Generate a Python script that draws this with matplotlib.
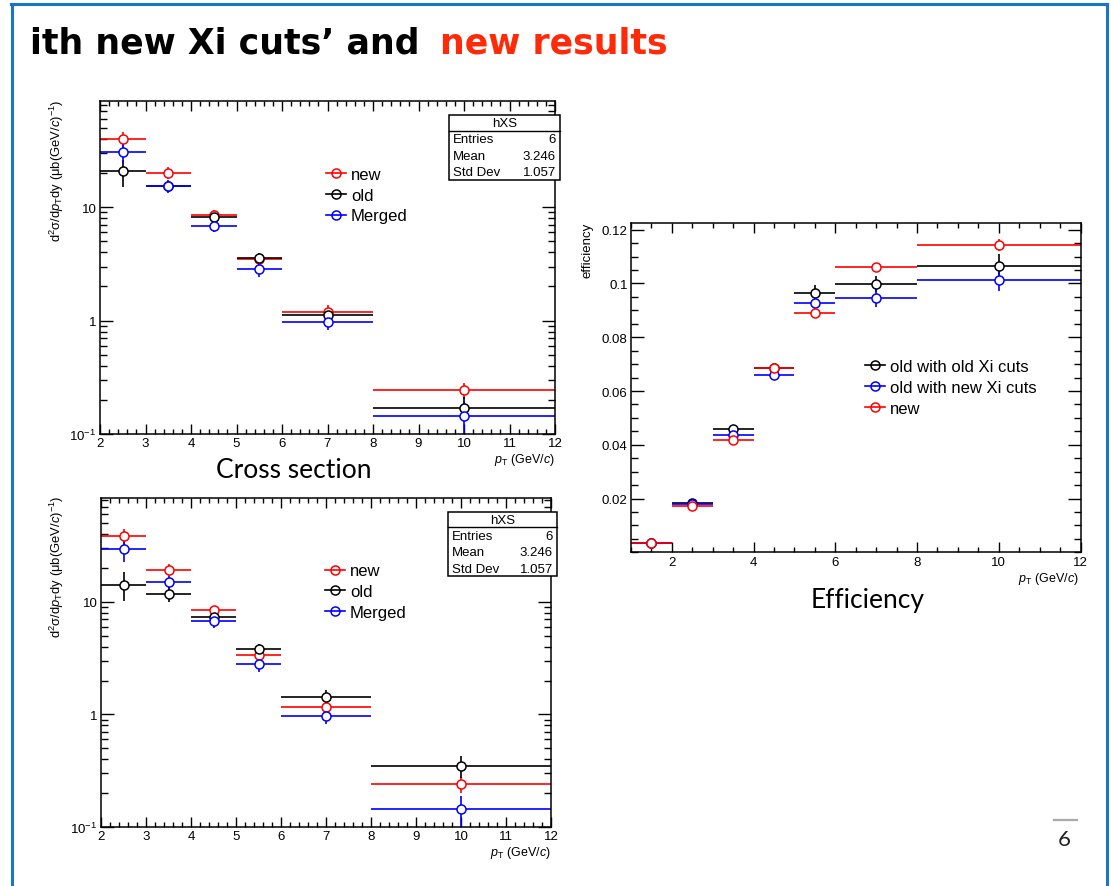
import matplotlib
matplotlib.use("Agg")
import matplotlib.pyplot as plt
from matplotlib.lines import Line2D
from matplotlib.patches import Rectangle
from matplotlib.ticker import FixedLocator, MultipleLocator, NullFormatter, LogLocator
import numpy as np

# ---------------- data ----------------
xs_bin_edges = [2, 3, 4, 5, 6, 8, 12]
eff_bin_edges = [1, 2, 3, 4, 5, 6, 8, 12]

# upper cross-section panel
xs1_new = [39.6, 20.1, 8.6, 3.46, 1.19, 0.244]
xs1_new_err = [6.3, 2.4, 0.8, 0.30, 0.17, 0.04]
xs1_old = [20.7, 15.3, 8.2, 3.57, 1.13, 0.17]
xs1_old_err = [5.6, 1.8, 0.8, 0.35, 0.15, 0.04]
xs1_merged = [30.6, 15.3, 6.9, 2.86, 0.97, 0.145]
xs1_merged_err = [6.0, 2.0, 0.9, 0.42, 0.15, 0.05]

# lower cross-section panel
xs2_new = [38.5, 19.4, 8.5, 3.36, 1.17, 0.239]
xs2_new_err = [6.3, 2.3, 0.8, 0.35, 0.15, 0.04]
xs2_old = [14.3, 11.8, 7.4, 3.85, 1.42, 0.349]
xs2_old_err = [4.0, 1.8, 0.7, 0.35, 0.22, 0.075]
xs2_merged = [29.7, 15.1, 6.75, 2.81, 0.97, 0.145]
xs2_merged_err = [7.0, 2.0, 0.9, 0.42, 0.15, 0.045]

# efficiency panel
eff_old_old = [0.0036, 0.0185, 0.0460, 0.0684, 0.0963, 0.0997, 0.1066]
eff_old_old_err = [0.0003, 0.0005, 0.0010, 0.0015, 0.0030, 0.0030, 0.0043]
eff_old_new = [0.0036, 0.0178, 0.0438, 0.0659, 0.0927, 0.0947, 0.1014]
eff_old_new_err = [0.0003, 0.0005, 0.0010, 0.0015, 0.0030, 0.0034, 0.0042]
eff_new = [0.0034, 0.0173, 0.0418, 0.0684, 0.0890, 0.1062, 0.1144]
eff_new_err = [0.0003, 0.0004, 0.0008, 0.0018, 0.0012, 0.0012, 0.0023]

stats_labels = ["Entries", "Mean", "Std Dev"]
stats_values = ["6", "3.246", "1.057"]

xs_legend = ["new", "old", "Merged"]
eff_legend = ["old with old Xi cuts", "old with new Xi cuts", "new"]

# ---------------- style ----------------
plt.rcParams['font.family'] = ['Liberation Sans', 'DejaVu Sans']
plt.rcParams['mathtext.fontset'] = 'custom'
plt.rcParams['mathtext.rm'] = 'Liberation Sans'
plt.rcParams['mathtext.it'] = 'Liberation Sans:italic'
plt.rcParams['mathtext.bf'] = 'Liberation Sans:bold'

RED, BLACK, BLUE = '#ff0000', '#000000', '#0000ff'
FRAME_BLUE = '#1b74c6'

W, H = 1111, 887
fig = plt.figure(figsize=(W / 100, H / 100), dpi=100)


def fx(px):
    return px / W


def fy(py):
    return 1 - py / H


def add_axes(left, top, right, bottom):
    return fig.add_axes([fx(left), fy(bottom), fx(right) - fx(left), fy(top) - fy(bottom)])


def centers(edges):
    e = np.asarray(edges, dtype=float)
    return (e[:-1] + e[1:]) / 2, (e[1:] - e[:-1]) / 2


def draw_series(ax, edges, vals, errs, color):
    x, xe = centers(edges)
    ax.errorbar(x, vals, yerr=errs, xerr=xe, fmt='o', color=color, ms=6.5,
                mfc='white', mec=color, mew=1.1, elinewidth=1.2, capsize=0, zorder=2)


def frame_style(ax, xlen=(7, 3.6), ylen=(9.5, 4.8)):
    for s in ax.spines.values():
        s.set_linewidth(1.1)
    ax.tick_params(which='both', direction='in', top=True, right=True, width=1.0,
                   labelsize=9.5, pad=2.5, colors='black')
    ax.tick_params(axis='x', which='major', length=xlen[0])
    ax.tick_params(axis='x', which='minor', length=xlen[1])
    ax.tick_params(axis='y', which='major', length=ylen[0])
    ax.tick_params(axis='y', which='minor', length=ylen[1])


def xs_panel(ax, new, new_e, old, old_e, mer, mer_e, ymax):
    draw_series(ax, xs_bin_edges, new, new_e, RED)
    draw_series(ax, xs_bin_edges, old, old_e, BLACK)
    draw_series(ax, xs_bin_edges, mer, mer_e, BLUE)
    ax.set_yscale('log')
    ax.set_xlim(2, 12)
    ax.set_ylim(0.1, ymax)
    ax.xaxis.set_major_locator(MultipleLocator(1))
    ax.xaxis.set_minor_locator(MultipleLocator(0.2))
    ax.yaxis.set_major_locator(FixedLocator([0.1, 1, 10]))
    ax.set_yticklabels([r'10$^{-1}$', '1', '10'])
    ax.yaxis.set_minor_locator(LogLocator(base=10, subs=np.arange(2, 10)))
    ax.yaxis.set_minor_formatter(NullFormatter())
    frame_style(ax)
    handles = [Line2D([], [], color=c, marker='o', ms=6.5, mfc='none', mec=c, mew=1.1, lw=1.2)
               for c in (RED, BLACK, BLUE)]
    return handles


def stats_box(left, top, right, sep, bottom, rows_y):
    fig.patches.append(Rectangle((fx(left), fy(bottom)), fx(right) - fx(left), fy(top) - fy(bottom),
                                 transform=fig.transFigure, facecolor='white', edgecolor='black',
                                 linewidth=1.1, zorder=3))
    fig.lines.append(Line2D([fx(left), fx(right)], [fy(sep), fy(sep)], transform=fig.transFigure,
                            color='black', lw=1.0, zorder=4))
    fig.text(fx((left + right) / 2), fy((top + sep) / 2), 'hXS', ha='center', va='center',
             fontsize=9.5, zorder=5)
    for lab, val, yy in zip(stats_labels, stats_values, rows_y):
        fig.text(fx(left + 4), fy(yy), lab, ha='left', va='center', fontsize=9.5, zorder=5)
        fig.text(fx(right - 4), fy(yy), val, ha='right', va='center', fontsize=9.5, zorder=5)


xs_ylabel = r'd$^{2}$σ/d$p_{\rm T}$dy (μb(GeV/$c$)$^{-1}$)'
pt_label = r'$p_{\rm T}$ (GeV/$c$)'

# ---------------- upper cross-section ----------------
ax1 = add_axes(100, 101.7, 555, 435)
h1 = xs_panel(ax1, xs1_new, xs1_new_err, xs1_old, xs1_old_err, xs1_merged, xs1_merged_err, 87)
ax1.legend(h1, xs_legend, loc='center left', bbox_to_anchor=(fx(326), fy(196)),
           bbox_transform=fig.transFigure, frameon=False, fontsize=12, handlelength=1.2,
           handletextpad=0.3, borderpad=0, borderaxespad=0, labelspacing=0.35)
stats_box(449, 115.7, 560, 131.7, 180.7, [140, 157, 173.5])
fig.text(fx(57), fy(100), xs_ylabel, rotation=90, ha='center', va='top', fontsize=9.4)
fig.text(fx(555), fy(460), pt_label, ha='right', va='center', fontsize=9)

# ---------------- lower cross-section ----------------
ax2 = add_axes(101, 499, 551, 828)
h2 = xs_panel(ax2, xs2_new, xs2_new_err, xs2_old, xs2_old_err, xs2_merged, xs2_merged_err, 84)
ax2.legend(h2, xs_legend, loc='center left', bbox_to_anchor=(fx(325), fy(592.7)),
           bbox_transform=fig.transFigure, frameon=False, fontsize=12, handlelength=1.2,
           handletextpad=0.3, borderpad=0, borderaxespad=0, labelspacing=0.35)
stats_box(448, 512.7, 557, 528.3, 576.7, [537.3, 553, 570])
fig.text(fx(57), fy(496), xs_ylabel, rotation=90, ha='center', va='top', fontsize=9.4)
fig.text(fx(551), fy(853), pt_label, ha='right', va='center', fontsize=9)

# ---------------- efficiency ----------------
ax3 = add_axes(631, 224, 1080.5, 553.3)
draw_series(ax3, eff_bin_edges, eff_old_old, eff_old_old_err, BLACK)
draw_series(ax3, eff_bin_edges, eff_old_new, eff_old_new_err, BLUE)
draw_series(ax3, eff_bin_edges, eff_new, eff_new_err, RED)
ax3.set_xlim(1, 12)
ax3.set_ylim(0, 0.1225)
ax3.xaxis.set_major_locator(MultipleLocator(2))
ax3.xaxis.set_minor_locator(MultipleLocator(0.5))
ax3.yaxis.set_major_locator(FixedLocator([0.02, 0.04, 0.06, 0.08, 0.10, 0.12]))
ax3.set_yticklabels(['0.02', '0.04', '0.06', '0.08', '0.1', '0.12'])
ax3.yaxis.set_minor_locator(MultipleLocator(0.005))
frame_style(ax3)
h3 = [Line2D([], [], color=c, marker='o', ms=6.5, mfc='none', mec=c, mew=1.1, lw=1.2)
      for c in (BLACK, BLUE, RED)]
ax3.legend(h3, eff_legend, loc='center left', bbox_to_anchor=(fx(865), fy(388.3)),
           bbox_transform=fig.transFigure, frameon=False, fontsize=12, handlelength=1.2,
           handletextpad=0.3, borderpad=0, borderaxespad=0, labelspacing=0.35)
fig.text(fx(587), fy(223), 'efficiency', rotation=90, ha='center', va='top', fontsize=9.5)
fig.text(fx(1079), fy(579), pt_label, ha='right', va='center', fontsize=9)

# ---------------- slide decorations ----------------
fig.lines.append(Line2D([fx(11), fx(1107)], [fy(5), fy(5)], transform=fig.transFigure,
                        color=FRAME_BLUE, lw=2.2))
fig.lines.append(Line2D([fx(12), fx(12)], [fy(5), 0], transform=fig.transFigure,
                        color=FRAME_BLUE, lw=2.2))
fig.lines.append(Line2D([fx(1106.5), fx(1106.5)], [fy(5), 0], transform=fig.transFigure,
                        color=FRAME_BLUE, lw=2.2))

fig.text(fx(30), fy(43), 'ith new Xi cuts’ and', ha='left', va='center', fontsize=25,
         fontweight='bold', family='DejaVu Sans', color='black')
fig.text(fx(440), fy(43), 'new results', ha='left', va='center', fontsize=25,
         fontweight='bold', family='DejaVu Sans', color='#ff2a08')

fig.text(fx(293.5), fy(470), 'Cross section', ha='center', va='center', fontsize=19,
         family=['Lato', 'DejaVu Sans'])
fig.text(fx(868), fy(601), 'Efficiency', ha='center', va='center', fontsize=19,
         family=['Lato', 'DejaVu Sans'])

fig.lines.append(Line2D([fx(1054), fx(1077)], [fy(820.5), fy(820.5)], transform=fig.transFigure,
                        color='#aaaaaa', lw=1.6))
fig.text(fx(1064), fy(840), '6', ha='center', va='center', fontsize=16, color='#222222',
         family=['Lato', 'DejaVu Sans'])

fig.savefig('out.png', dpi=100)
